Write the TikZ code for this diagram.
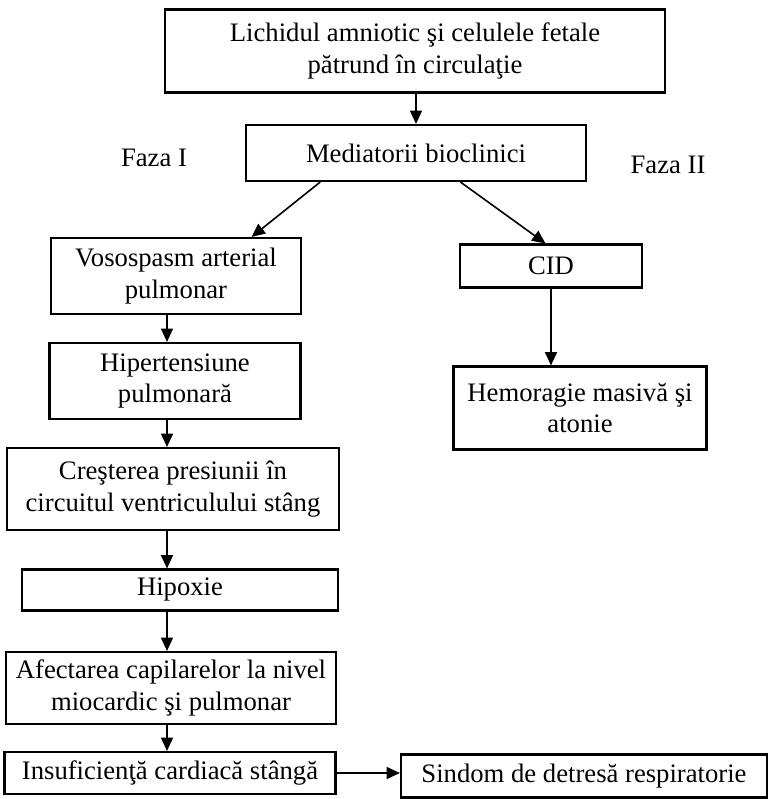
\documentclass[tikz,border=0pt]{standalone}
\usepackage{fontspec}
\setmainfont{Liberation Serif}
\usetikzlibrary{arrows.meta,calc}

\tikzset{
  box/.style args={#1x#2}{draw, line width=1.6pt, align=center,
    minimum width=#1*0.75pt, minimum height=#2*0.75pt, inner sep=2pt},
  arr/.style={line width=1.2pt, -{Triangle[length=10pt,width=9pt]}}
}

\begin{document}
\begin{tikzpicture}[x=0.75pt, y=-0.75pt, font=\fontsize{20}{23.5}\selectfont]
  \useasboundingbox (0,0) rectangle (770,799);

  % top of the chart
  \node[box=500x83] (fluid) at (415,51) {Lichidul amniotic şi celulele fetale\\pătrund în circulaţie};
  \node[box=340x56] (med) at (416,153) {Mediatorii bioclinici};
  \node (fazaA) at (154,158) {Faza I};
  \node (fazaB) at (668,165) {Faza II};

  % phase I, left column
  \coordinate (spine) at (167,0);
  \node[box=250x76] (vaso) at (176,276) {Vosospasm arterial\\pulmonar};
  \node[box=251x76] (hyper) at (175,381) {Hipertensiune\\pulmonară};
  \node[box=332x82] (press) at (173,489) {Creşterea presiunii în\\circuitul ventriculului stâng};
  \node[box=316x41] (hypox) at (180,590) {Hipoxie};
  \node[box=330x72] (capil) at (171,688) {Afectarea capilarelor la nivel\\miocardic şi pulmonar};
  \node[box=331x42] (heart) at (170,773) {Insuficienţă cardiacă stângă};
  \node[box=366x43] (resp) at (584,776) {Sindom de detresă respiratorie};

  % phase II, right column
  \node[box=182x43] (cid) at (551,266) {CID};
  \node[box=253x83] (bleed) at (580,408) {Hemoragie masivă şi\\atonie};

  % connectors
  \draw[arr] (fluid.south -| med.north) -- (med.north);
  \draw[arr] ($(med.south west)!0.22!(med.south east)$) -- ($(vaso.north west)!0.8!(vaso.north east)$);
  \draw[arr] ($(med.south west)!0.63!(med.south east)$) -- ($(cid.north west)!0.47!(cid.north east)$);
  \draw[arr] (vaso.south -| spine) -- (hyper.north -| spine);
  \draw[arr] (hyper.south -| spine) -- (press.north -| spine);
  \draw[arr] (press.south -| spine) -- (hypox.north -| spine);
  \draw[arr] (hypox.south -| spine) -- (capil.north -| spine);
  \draw[arr] (capil.south -| spine) -- (heart.north -| spine);
  \draw[arr] (heart.east) -- (heart.east -| resp.west);
  \draw[arr] (cid.south) -- (cid.south |- bleed.north);
\end{tikzpicture}
\end{document}
